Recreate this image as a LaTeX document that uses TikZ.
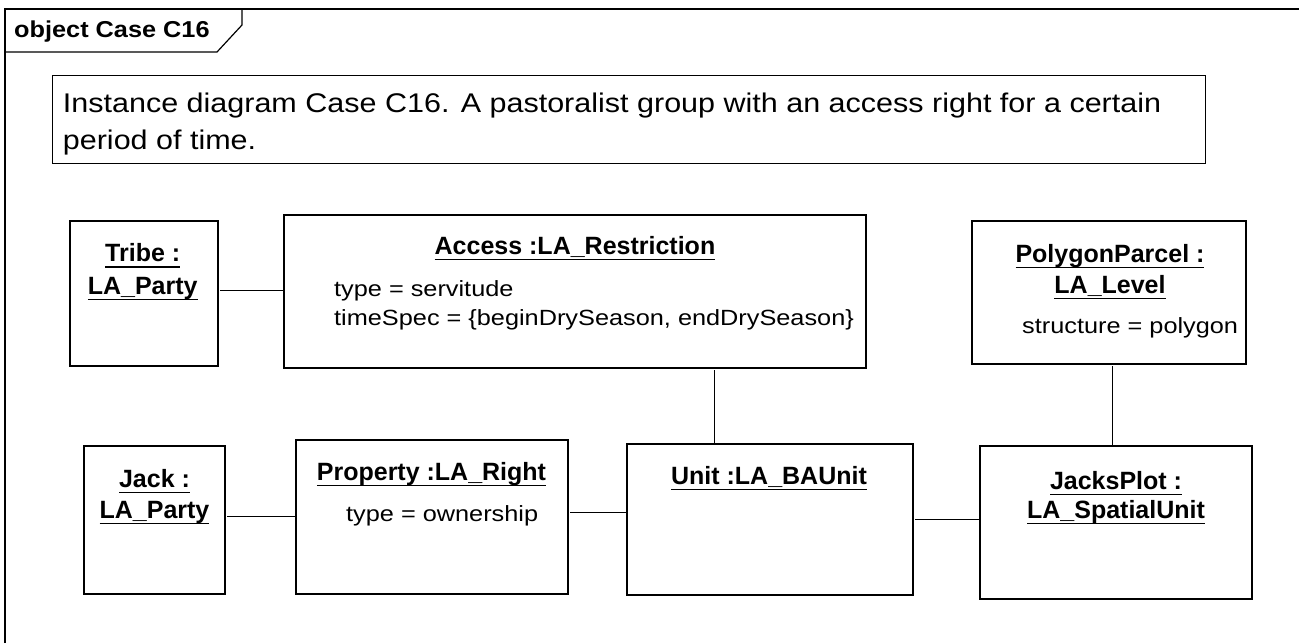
\documentclass[tikz,border=0pt]{standalone}
\usepackage{fontspec}
\setmainfont{Liberation Sans}
\newfontfamily\attrfamily{Liberation Sans}[FakeStretch=1.15]
\newfontfamily\tabfamily{Liberation Sans}[FakeStretch=1.1]
\newfontfamily\notefamily{Liberation Sans}[FakeStretch=1.13]
\newcommand\ulx[1]{\setbox0\hbox{#1}\rlap{\rule[-6pt]{\wd0}{1.4pt}}\box0}
\begin{document}
\begin{tikzpicture}[x=1pt,y=-1pt,
  objbox/.style={draw, line width=1.5pt, rectangle, inner sep=0pt, anchor=north west},
  ttl/.style={inner sep=0pt, anchor=base, font=\fontsize{25}{31}\selectfont\bfseries},
  attr/.style={inner sep=0pt, anchor=base west, font=\attrfamily\fontsize{22}{23}\selectfont},
  notetext/.style={inner sep=0pt, anchor=base west, font=\notefamily\fontsize{27}{37}\selectfont},
  link/.style={line width=1.3pt, shorten <=1.5pt},
  frameline/.style={line width=1.2pt}]
\useasboundingbox (0,0) rectangle (1299,643);
% frame
\draw[frameline] (5,643) -- (5,9) -- (1299,9);
\draw[frameline] (5,52) -- (217,52) -- (242,25) -- (242,9);
\node[inner sep=0pt, anchor=base west, font=\tabfamily\fontsize{23}{26}\selectfont\bfseries] (tab) at (14,37.7) {object Case C16};
% note
\node[objbox, line width=1.4pt, minimum width=1153pt, minimum height=88pt] (note) at (52,75) {};
\node[notetext] (noteL1) at (62.7,112) {Instance diagram Case C16. A pastoralist group with an access right for a certain};
\node[notetext] (noteL2) at (62.7,149) {period of time.};
% boxes
\node[objbox, minimum width=148pt, minimum height=145pt] (tribe) at (69,220) {};
\node[objbox, minimum width=582pt, minimum height=153pt] (access) at (283,214) {};
\node[objbox, minimum width=274pt, minimum height=143pt] (poly) at (971,220) {};
\node[objbox, minimum width=141pt, minimum height=148pt] (jack) at (83,445) {};
\node[objbox, minimum width=272pt, minimum height=154pt] (prop) at (295,439) {};
\node[objbox, minimum width=286pt, minimum height=151pt] (unit) at (626,443) {};
\node[objbox, minimum width=272pt, minimum height=153pt] (plot) at (979,445) {};
% texts
\node[ttl] (tribeT1) at (142.7,261.7) {\ulx{Tribe :}};
\node[ttl] (tribeT2) at (142.7,294) {\ulx{LA\_Party}};
\node[ttl] (accessT) at (575,254) {\ulx{Access :LA\_Restriction}};
\node[attr] (accessA1) at (334,296) {type = servitude};
\node[attr] (accessA2) at (334,325) {timeSpec = \{beginDrySeason, endDrySeason\}};
\node[ttl] (polyT1) at (1110,262) {\ulx{PolygonParcel :}};
\node[ttl] (polyT2) at (1110,293) {\ulx{LA\_Level}};
\node[attr] (polyA) at (1022,333) {structure = polygon};
\node[ttl] (jackT1) at (154.5,487) {\ulx{Jack :}};
\node[ttl] (jackT2) at (154.5,518) {\ulx{LA\_Party}};
\node[ttl] (propT) at (431.5,480) {\ulx{Property :LA\_Right}};
\node[attr] (propA) at (346,521) {type = ownership};
\node[ttl] (unitT) at (769,484) {\ulx{Unit :LA\_BAUnit}};
\node[ttl] (plotT1) at (1116,489) {\ulx{JacksPlot :}};
\node[ttl] (plotT2) at (1116,518) {\ulx{LA\_SpatialUnit}};
% connectors
\draw[link] ([yshift=3pt]tribe.east) -- ([yshift=3pt]tribe.east -| access.west);
\draw[link] ([yshift=3pt]jack.east) -- ([yshift=3pt]jack.east -| prop.west);
\draw[link] ([yshift=4pt]prop.east) -- ([yshift=4pt]prop.east -| unit.west);
\draw[link] (unit.east) -- (unit.east -| plot.west);
\draw[link] ([xshift=140pt]access.south) -- ([xshift=140pt]access.south |- unit.north);
\draw[link] ([xshift=4pt]poly.south) -- ([xshift=4pt]poly.south |- plot.north);
\end{tikzpicture}
\end{document}
